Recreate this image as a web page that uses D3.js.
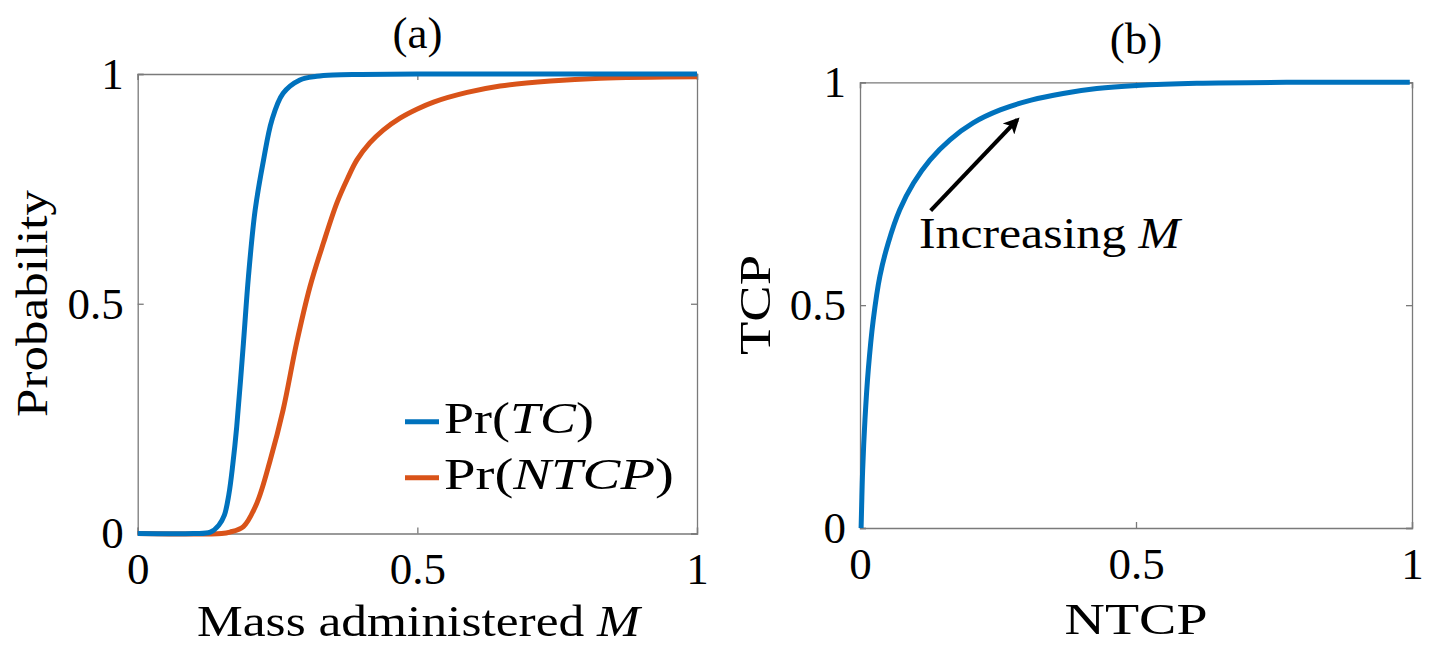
<!DOCTYPE html>
<html><head><meta charset="utf-8">
<script src="https://cdn.jsdelivr.net/npm/d3@7"></script>
<style>
body{margin:0;background:#fff}
svg{display:block}
</style>
</head><body>
<svg id="c" width="1434" height="645"></svg>
<script>
// ---------- data ----------
// Panel (a): probability vs mass administered M
const massTC   = [0, 0.10, 0.13, 0.145, 0.155, 0.163, 0.170, 0.177, 0.189, 0.198, 0.210, 0.225, 0.240, 0.260, 0.290, 0.320, 0.350, 0.400, 0.500, 0.700, 1.0];
const probTC   = [0, 0, 0.003, 0.018, 0.040, 0.085, 0.150, 0.232, 0.414, 0.559, 0.704, 0.813, 0.900, 0.958, 0.987, 0.995, 0.998, 0.999, 1.0, 1.0, 1.0];
const massNTCP = [0, 0.150, 0.165, 0.189, 0.213, 0.237, 0.260, 0.284, 0.308, 0.332, 0.356, 0.375, 0.392, 0.415, 0.439, 0.469, 0.500, 0.529, 0.589, 0.648, 0.738, 0.827, 1.0];
const probNTCP = [0, 0, 0.003, 0.015, 0.066, 0.160, 0.269, 0.414, 0.537, 0.632, 0.719, 0.772, 0.813, 0.850, 0.878, 0.904, 0.924, 0.939, 0.960, 0.974, 0.985, 0.991, 0.994];
// Panel (b): TCP vs NTCP
const ntcpB = [0.002, 0.003, 0.0048, 0.009, 0.015, 0.024, 0.036, 0.051, 0.072, 0.097, 0.127, 0.163, 0.205, 0.254, 0.310, 0.368, 0.429, 0.501, 0.610, 0.800, 0.996];
const tcpB  = [0, 0.05, 0.130, 0.243, 0.355, 0.467, 0.565, 0.639, 0.714, 0.774, 0.826, 0.871, 0.909, 0.938, 0.960, 0.975, 0.986, 0.993, 0.998, 1.0, 1.0];
// ticks and labels
const tickVals = [0, 0.5, 1];
const tickLabels = ["0", "0.5", "1"];
const seriesNames = [["Pr(", "TC", ")"], ["Pr(", "NTCP", ")"]];
const arrowFrom = [0.128, 0.712];
const arrowTo = [0.285, 0.916];

// ---------- drawing ----------
const BLUE = "#0072BD", ORANGE = "#D95319", AXC = "#7a7a7a";
const FS = 45;
const FONT = '"Liberation Serif","DejaVu Serif","Noto Serif",serif';
const svg = d3.select("#c");
svg.append("rect").attr("width",1434).attr("height",645).attr("fill","#fff");

// text helper: parts = [[string, italic?], ...]; stretched horizontally to a target width if given
function label(x, y, rot, anchor, parts, target){
  const g = svg.append("g").attr("transform", `translate(${x},${y}) rotate(${rot})`);
  const t = g.append("text").attr("text-anchor", anchor)
    .attr("font-family", FONT).attr("font-size", FS).attr("fill", "#000");
  parts.forEach(p => {
    const s = t.append("tspan").text(p[0]);
    if (p[1]) s.attr("font-style", "italic");
  });
  if (target) {
    const w = t.node().getComputedTextLength();
    t.attr("transform", `scale(${(target / w).toFixed(4)},1)`);
  }
  return t;
}

function panel(x, y){
  const g = svg.append("g");
  const fmt = d => tickLabels[tickVals.indexOf(d)];
  g.append("g").attr("transform",`translate(0,${y.range()[0]})`)
    .call(d3.axisBottom(x).tickValues(tickVals).tickSize(-6).tickPadding(19).tickFormat(fmt));
  g.append("g").attr("transform",`translate(${x.range()[0]},0)`)
    .call(d3.axisLeft(y).tickValues(tickVals).tickSize(-6).tickPadding(14).tickFormat(fmt));
  g.append("g").attr("transform",`translate(0,${y.range()[1]})`)
    .call(d3.axisTop(x).tickValues(tickVals).tickSize(-6).tickFormat(""));
  g.append("g").attr("transform",`translate(${x.range()[1]},0)`)
    .call(d3.axisRight(y).tickValues(tickVals).tickSize(-6).tickFormat(""));
  g.selectAll("g").attr("font-family", FONT).attr("font-size", FS);
  g.selectAll(".domain, .tick line").attr("stroke", AXC).attr("stroke-width", 1.3);
  g.selectAll(".tick text").attr("fill","#000");
  return g;
}

// Panel (a)
const xa = d3.scaleLinear().domain([0,1]).range([137.7, 697]);
const ya = d3.scaleLinear().domain([0,1]).range([533.5, 74]);
panel(xa, ya);
const lineA = d3.line().curve(d3.curveCatmullRom.alpha(0.5));
svg.append("path").attr("d", lineA(massNTCP.map((m,i)=>[xa(m), ya(probNTCP[i])])))
  .attr("fill","none").attr("stroke",ORANGE).attr("stroke-width",5).attr("stroke-linejoin","round");
svg.append("path").attr("d", lineA(massTC.map((m,i)=>[xa(m), ya(probTC[i])])))
  .attr("fill","none").attr("stroke",BLUE).attr("stroke-width",5).attr("stroke-linejoin","round");

label(417.5, 48, 0, "middle", [["(a)"]]);
label(418.5, 636, 0, "middle", [["Mass administered "], ["M", true]], 443);
label(47, 303.5, -90, "middle", [["Probability"]], 227);

// legend
const legColors = [BLUE, ORANGE];
const legY = [421.7, 477.7];
const legW = [150, 230];
seriesNames.forEach((parts, i) => {
  svg.append("line").attr("x1",405).attr("x2",439).attr("y1",legY[i]).attr("y2",legY[i])
    .attr("stroke",legColors[i]).attr("stroke-width",5);
  label(444, legY[i] + 11.5, 0, "start", [[parts[0]], [parts[1], true], [parts[2]]], legW[i]);
});

// Panel (b)
const xb = d3.scaleLinear().domain([0,1]).range([860, 1412]);
const yb = d3.scaleLinear().domain([0,1]).range([528, 82.3]);
panel(xb, yb);
const lineB = d3.line().curve(d3.curveCatmullRom.alpha(0.5));
svg.append("path").attr("d", lineB(ntcpB.map((v,i)=>[xb(v), yb(tcpB[i])])))
  .attr("fill","none").attr("stroke",BLUE).attr("stroke-width",5).attr("stroke-linejoin","round");

label(1136, 54, 0, "middle", [["(b)"]]);
label(1136, 634, 0, "middle", [["NTCP"]], 143);
label(770, 305, -90, "middle", [["TCP"]], 100);

// arrow annotation
svg.append("defs").append("marker").attr("id","ah").attr("viewBox","0 0 10 10")
  .attr("refX",8).attr("refY",5).attr("markerWidth",5).attr("markerHeight",4)
  .attr("markerUnits","strokeWidth").attr("orient","auto")
  .append("path").attr("d","M0,0 L10,5 L0,10 L2.5,5 Z").attr("fill","#000");
svg.append("line").attr("x1", xb(arrowFrom[0])).attr("y1", yb(arrowFrom[1]))
  .attr("x2", xb(arrowTo[0])).attr("y2", yb(arrowTo[1]))
  .attr("stroke","#000").attr("stroke-width",4).attr("marker-end","url(#ah)");
label(919, 248, 0, "start", [["Increasing "], ["M", true]], 261);
</script>
</body></html>
